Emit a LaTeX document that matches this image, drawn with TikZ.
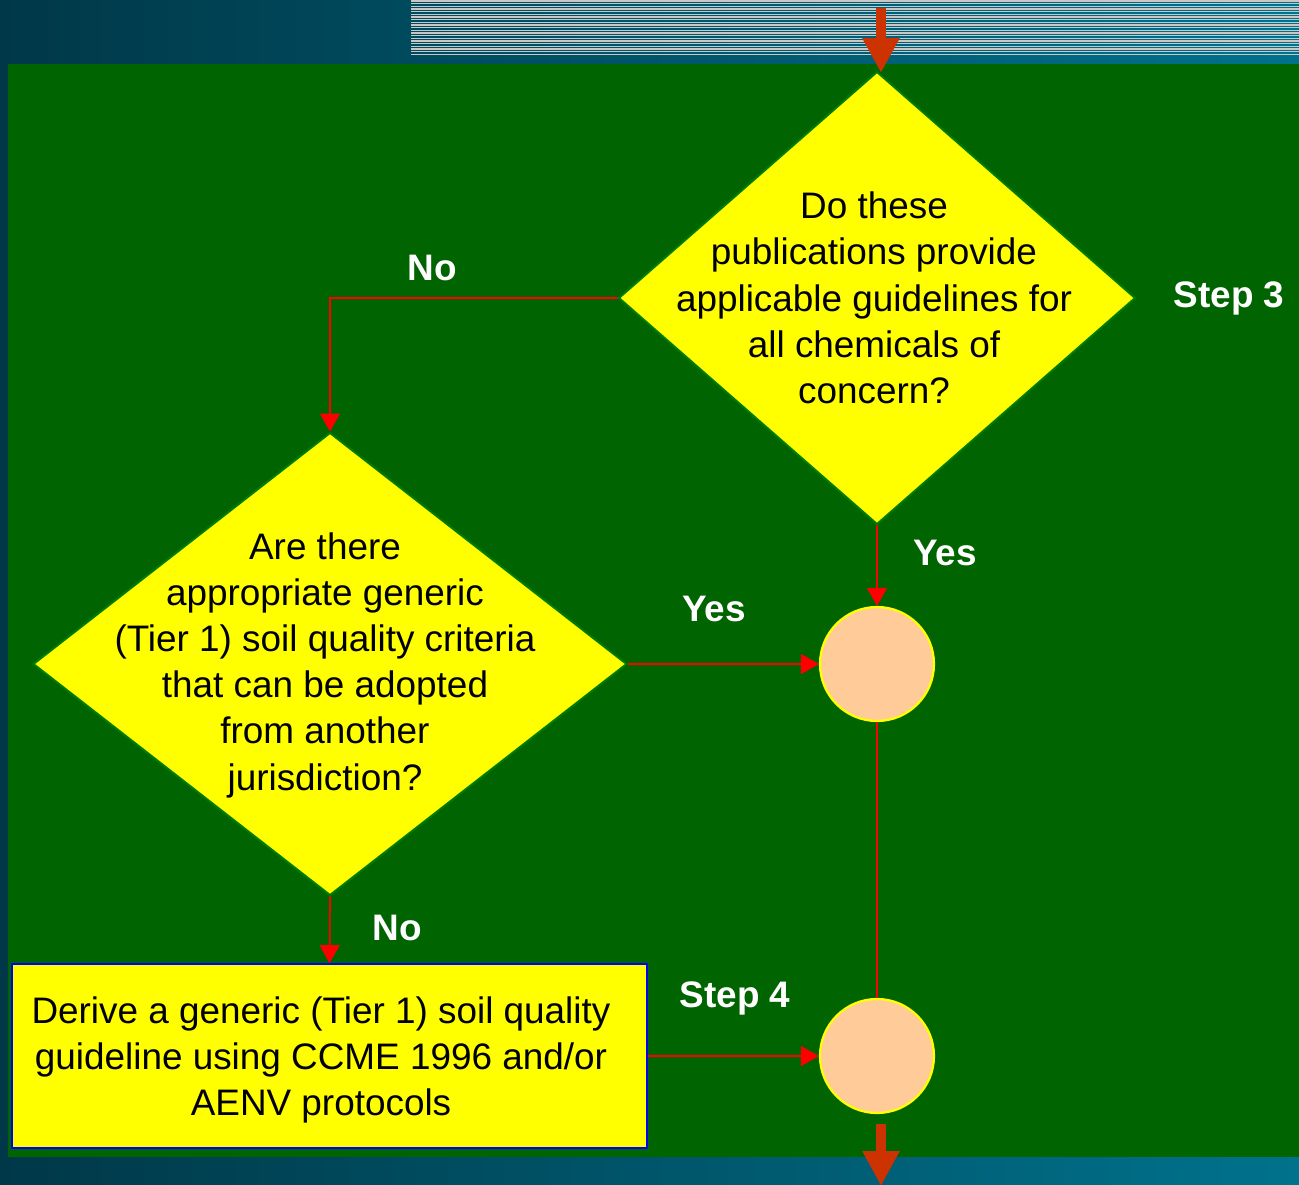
\documentclass[tikz,border=0pt]{standalone}
\usepackage{fontspec}
\setmainfont{Liberation Sans}
\usetikzlibrary{shapes.geometric,arrows.meta}
\definecolor{panelgreen}{RGB}{0,100,0}
\definecolor{edgegreen}{RGB}{0,125,0}
\definecolor{bgleft}{RGB}{0,56,72}
\definecolor{bgright}{RGB}{0,114,140}
\definecolor{stripe}{RGB}{200,200,200}
\definecolor{bigarrow}{RGB}{204,51,0}
\definecolor{peach}{RGB}{255,204,153}
\definecolor{boxblue}{RGB}{0,0,255}
\definecolor{pureyellow}{RGB}{255,255,0}
\definecolor{purered}{RGB}{255,0,0}
\tikzset{
  decision/.style={diamond, draw=edgegreen, line width=0.04cm, fill=pureyellow, inner sep=0pt},
  qtext/.style={align=center, font=\fontsize{21}{26.3}\selectfont, text=black, inner sep=0pt},
  junction/.style={circle, draw=pureyellow, line width=0.045cm, fill=peach, minimum size=2.28cm, inner sep=0pt},
  actionbox/.style={rectangle, draw=boxblue, line width=0.035cm, fill=pureyellow, minimum width=12.7cm, minimum height=3.68cm, inner sep=0pt},
  lbl/.style={font=\fontsize{21}{26}\selectfont\bfseries, text=white, inner sep=0pt},
  conn/.style={draw=purered, line width=0.035cm, -{Triangle[length=0.36cm,width=0.4cm]}},
  link/.style={draw=purered, line width=0.035cm},
  thick arrow/.style={draw=bigarrow, line width=0.19cm, -{Triangle[length=0.7cm,width=0.7cm]}}
}
\begin{document}
\begin{tikzpicture}[x=0.02cm,y=-0.02cm]
\useasboundingbox (0,0) rectangle (1299,1184);
% background
\shade[left color=bgleft, right color=bgright] (0,0) rectangle (1299,1184);
\foreach \k in {0,...,20} {
  \fill[stripe] (411,{0.3+2.67*\k}) rectangle (1299,{1.5+2.67*\k});
}
\fill[panelgreen] (8,64) rectangle (1299,1157);
% nodes
\node[decision, minimum width=10.34cm, minimum height=9.06cm] (d1) at (877,298) {};
\node[qtext] (d1t) at (874,298) {Do these\\publications provide\\applicable guidelines for\\all chemicals of\\concern?};
\node[decision, minimum width=11.88cm, minimum height=9.26cm] (d2) at (330,664) {};
\node[qtext] (d2t) at (325,665) {Are there\\appropriate generic\\(Tier 1) soil quality criteria\\that can be adopted\\from another\\jurisdiction?};
\node[junction] (c1) at (877,664) {};
\node[junction] (c2) at (877,1056) {};
\node[actionbox] (box) at (329.5,1056) {};
\node[qtext] (boxt) at (321,1060) {Derive a generic (Tier 1) soil quality\\guideline using CCME 1996 and/or\\AENV protocols};
% labels
\node[lbl] (no1) at (432,268) {No};
\node[lbl] (step3) at (1229,298) {Step 3};
\node[lbl] (yes1) at (945,553) {Yes};
\node[lbl] (yes2) at (714,609) {Yes};
\node[lbl] (no2) at (397,928) {No};
\node[lbl] (step4) at (735,998) {Step 4};
% connectors
\draw[conn] (d1.west) -| (d2.north);
\draw[conn] (d1.south) -- (c1.north);
\draw[conn] (d2.east) -- (c1.west);
\draw[link] (c1.south) -- (c2.north);
\draw[conn] (d2.south) -- (box.north);
\draw[conn] (box.east) -- (c2.west);
% big arrows
\coordinate (topstart) at (881,8);
\coordinate (topend) at (881,73);
\draw[thick arrow] (topstart) -- (topend);
\coordinate (botstart) at (881,1124);
\coordinate (botend) at (881,1186);
\draw[thick arrow] (botstart) -- (botend);
\end{tikzpicture}
\end{document}
